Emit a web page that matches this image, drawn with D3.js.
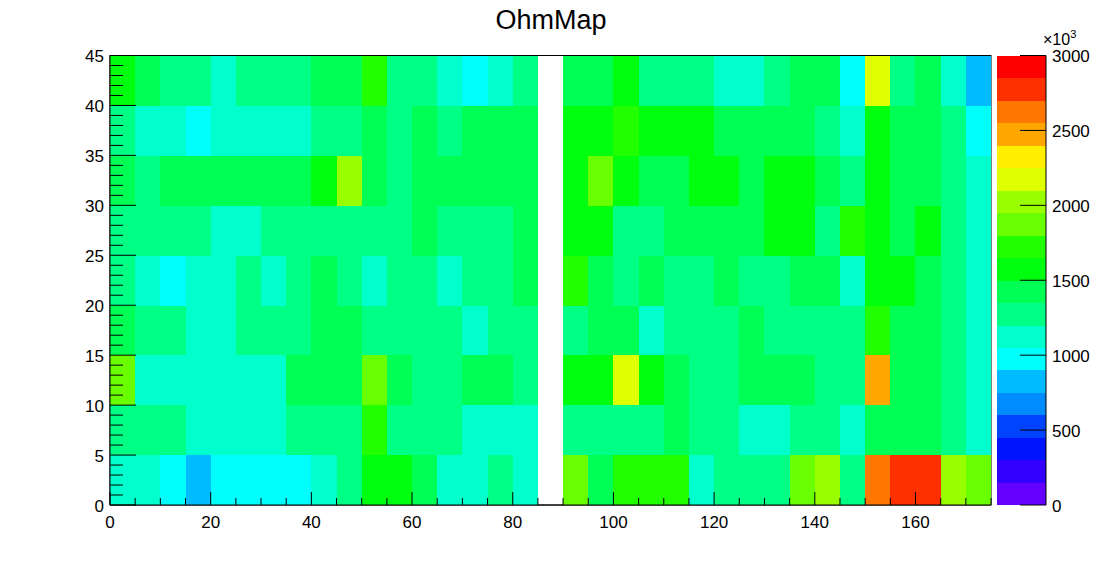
<!DOCTYPE html>
<html>
<head>
<meta charset="utf-8">
<script src="https://cdn.jsdelivr.net/npm/d3@7"></script>
<style>
  body { margin: 0; background: #fff; }
  text { font-family: "Liberation Sans", Arial, Helvetica, sans-serif; }
</style>
</head>
<body>
<svg id="chart" width="1102" height="562"></svg>
<script>
// bin edges: x 0..175 in steps of 5, y 0..45 in steps of 5
const xEdges = d3.range(0, 176, 5);
const yEdges = d3.range(0, 46, 5);

// cell contents (x10^3), one array per y bin, 35 x bins each; 0 = empty bin
const row_0_5   = [1130,1130,980,820,980,980,980,980,1130,1280,1570,1570,1420,1130,1130,1280,1130,0,1870,1420,1720,1720,1720,1130,1280,1280,1280,1870,2030,1280,2620,2780,2780,2030,1870];
const row_5_10  = [1280,1280,1280,1130,1130,1130,1130,1280,1280,1280,1720,1280,1280,1280,1130,1130,1130,0,1280,1280,1280,1280,1420,1280,1280,1130,1130,1280,1280,1130,1420,1420,1420,1280,1130];
const row_10_15 = [1870,1130,1130,1130,1130,1130,1130,1420,1420,1420,1870,1420,1280,1280,1420,1420,1280,0,1570,1570,2170,1570,1420,1280,1280,1420,1420,1420,1280,1280,2470,1420,1420,1280,1130];
const row_15_20 = [1420,1280,1280,1130,1130,1280,1280,1280,1420,1420,1280,1280,1280,1280,1130,1280,1280,0,1280,1420,1420,1130,1280,1280,1280,1420,1280,1280,1280,1280,1720,1420,1420,1280,1130];
const row_20_25 = [1280,1130,980,1130,1130,1280,1130,1280,1420,1280,1130,1280,1280,1130,1280,1280,1420,0,1720,1420,1280,1420,1280,1280,1420,1280,1280,1420,1420,1130,1570,1570,1420,1280,1130];
const row_25_30 = [1280,1280,1280,1280,1130,1130,1280,1280,1280,1280,1280,1280,1420,1280,1280,1280,1420,0,1570,1570,1280,1280,1420,1420,1420,1420,1570,1570,1280,1720,1570,1420,1570,1280,1130];
const row_30_35 = [1420,1280,1420,1420,1420,1420,1420,1420,1570,2030,1420,1280,1420,1420,1420,1420,1420,0,1570,1870,1570,1420,1420,1570,1570,1420,1570,1570,1420,1280,1570,1420,1420,1280,1130];
const row_35_40 = [1280,1130,1130,980,1130,1130,1130,1130,1280,1280,1420,1280,1420,1280,1420,1420,1420,0,1570,1570,1720,1570,1570,1570,1420,1420,1420,1420,1280,1130,1570,1420,1420,1280,980];
const row_40_45 = [1570,1420,1280,1280,1130,1280,1280,1280,1420,1420,1720,1280,1280,1130,980,1130,1280,0,1420,1420,1570,1280,1280,1280,1130,1130,1280,1420,1420,980,2170,1280,1420,1130,820];
const rows = [row_0_5, row_5_10, row_10_15, row_15_20, row_20_25, row_25_30, row_30_35, row_35_40, row_40_45];

const xTicks = [0, 20, 40, 60, 80, 100, 120, 140, 160];
const yTicks = [0, 5, 10, 15, 20, 25, 30, 35, 40, 45];
const zTicks = [0, 500, 1000, 1500, 2000, 2500, 3000];
const zMax = 3000;
const nLevels = 20;

const svg = d3.select("#chart");
const padL = 110, padR = 991, padT = 55.5, padB = 505;

const x = d3.scaleLinear().domain([0, 175]).range([padL, padR]);
const y = d3.scaleLinear().domain([0, 45]).range([padB, padT]);

// ROOT "pretty" palette: 50 hues 280 -> 0, last one kRed, 20 contours
function rootPalette(k) {
  const idx = Math.floor((k + 0.99) * 50 / nLevels);
  if (idx >= 49) return "#ff0000";
  return d3.hsl(280 - (idx + 1) * 5.6, 1, 0.5).formatHex();
}
const levels = d3.range(1, nLevels).map(k => k * zMax / nLevels);
const color = d3.scaleThreshold().domain(levels).range(d3.range(nLevels).map(rootPalette));

// frame (mostly hidden under the cells)
svg.append("rect")
  .attr("x", padL).attr("y", padT).attr("width", padR - padL).attr("height", padB - padT)
  .attr("fill", "none").attr("stroke", "#000").attr("stroke-width", 1);

const cells = [];
rows.forEach((row, j) => row.forEach((v, i) => {
  if (v > 0) cells.push({x0: xEdges[i], x1: xEdges[i + 1], y0: yEdges[j], y1: yEdges[j + 1], v});
}));

svg.append("g").selectAll("rect").data(cells).join("rect")
  .attr("x", d => x(d.x0))
  .attr("y", d => y(d.y1))
  .attr("width", d => x(d.x1) - x(d.x0) + 0.3)
  .attr("height", d => y(d.y0) - y(d.y1) + 0.3)
  .attr("fill", d => color(d.v))
  .attr("shape-rendering", "crispEdges");

// x axis
const xAxis = svg.append("g").attr("transform", `translate(0,${padB})`);
xAxis.append("line").attr("x1", padL).attr("x2", padR).attr("stroke", "#000");
xAxis.selectAll(".tick").data(d3.range(0, 176, 5)).join("line")
  .attr("x1", d => x(d)).attr("x2", d => x(d))
  .attr("y1", 0).attr("y2", d => d % 20 === 0 ? -13 : -7)
  .attr("stroke", "#000");
xAxis.selectAll("text").data(xTicks).join("text")
  .attr("x", d => x(d)).attr("y", 23)
  .attr("text-anchor", "middle").attr("font-size", 17)
  .text(d => d);

// y axis
const yAxis = svg.append("g").attr("transform", `translate(${padL},0)`);
yAxis.append("line").attr("y1", padT).attr("y2", padB).attr("stroke", "#000");
yAxis.selectAll(".tick").data(d3.range(0, 46, 1)).join("line")
  .attr("y1", d => y(d)).attr("y2", d => y(d))
  .attr("x1", 0).attr("x2", d => d % 5 === 0 ? 26 : 13)
  .attr("stroke", "#000");
yAxis.selectAll("text").data(yTicks).join("text")
  .attr("x", -6).attr("y", d => y(d) + 6.5)
  .attr("text-anchor", "end").attr("font-size", 17)
  .text(d => d);

// colour bar
const zLeft = 997, zRight = 1046;
const z = d3.scaleLinear().domain([0, zMax]).range([padB, padT]);
svg.append("g").selectAll("rect").data(d3.range(nLevels)).join("rect")
  .attr("x", zLeft).attr("width", zRight - zLeft)
  .attr("y", k => z((k + 1) * zMax / nLevels))
  .attr("height", k => z(k * zMax / nLevels) - z((k + 1) * zMax / nLevels) + 0.3)
  .attr("fill", k => rootPalette(k))
  .attr("shape-rendering", "crispEdges");
const zAxis = svg.append("g").attr("transform", `translate(${zRight},0)`);
zAxis.append("line").attr("y1", padT).attr("y2", padB).attr("stroke", "#000");
zAxis.selectAll(".tick").data(zTicks).join("line")
  .attr("y1", d => z(d)).attr("y2", d => z(d))
  .attr("x1", -26).attr("x2", 0).attr("stroke", "#000");
zAxis.selectAll("text").data(zTicks).join("text")
  .attr("x", 6).attr("y", d => z(d) + 6.5)
  .attr("font-size", 17)
  .text(d => d);

// exponent of the colour axis, sits just above "3000" like in ROOT
const mult = svg.append("text").attr("x", 1043).attr("y", 45).attr("font-size", 16);
mult.append("tspan").text("\u00d710");
mult.append("tspan").attr("dy", -7).attr("font-size", 11).text("3");

// title
svg.append("text")
  .attr("x", 551).attr("y", 29)
  .attr("text-anchor", "middle").attr("font-size", 27)
  .text("OhmMap");
</script>
</body>
</html>
